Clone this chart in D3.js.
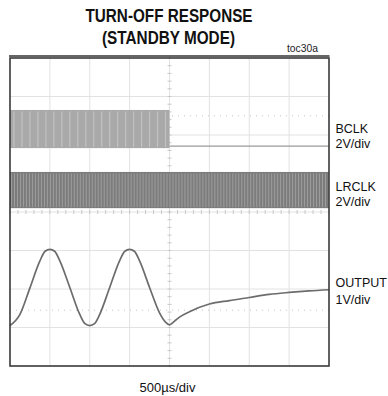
<!DOCTYPE html>
<html><head><meta charset="utf-8">
<script src="https://cdn.jsdelivr.net/npm/d3@7"></script>
<style>
html,body{margin:0;padding:0;background:#fff;}
svg{display:block;}
</style></head>
<body>
<script>
// ---- data (screen units: 500 µs/div horizontally, divisions vertically, 0 = centre) ----
const timeDomainUs = [0, 4000];
const divDomain = [-4, 4];
const gridDivsX = [0,1,2,3,4,5,6,7,8];
const gridDivsY = [-4,-3,-2,-1,0,1,2,3,4];

const channelNames = ["BCLK", "LRCLK", "OUTPUT"];
const channelScales = ["2V/div", "2V/div", "1V/div"];

// BCLK: clock band that stops at standby
const bclkHigh = 2.65, bclkLow = 1.66, bclkOffLevel = 1.71, bclkStopUs = 2000;
// LRCLK: keeps running
const lrclkHigh = 1.04, lrclkLow = 0.10, lrclkStopUs = 4000;
// aliased stripe period of the displayed clocks
const bclkStripeUs = 100, lrclkStripeUs = 37.5;

// OUTPUT trace (time µs, divisions)
const outputT = [0,125,250,375,440,500,560,625,750,875,940,1000,1060,1125,1250,1375,1440,1500,1560,1625,1750,1875,1950,2000,2060,2125,2250,2500,2750,3000,3250,3500,3750,4000];
const outputV = [-2.95,-2.66,-1.97,-1.27,-1.02,-0.97,-1.02,-1.27,-1.96,-2.66,-2.90,-2.95,-2.90,-2.66,-1.96,-1.26,-1.02,-0.97,-1.02,-1.27,-1.96,-2.62,-2.86,-2.93,-2.84,-2.73,-2.59,-2.39,-2.30,-2.22,-2.14,-2.09,-2.05,-2.02];

const markerLevels = [2.5, -2.55];

// ---- drawing ----
const W = 388, H = 396;
const svg = d3.select("body").append("svg").attr("width", W).attr("height", H);

const x = d3.scaleLinear().domain(timeDomainUs).range([10, 329]);
const y = d3.scaleLinear().domain(divDomain).range([366, 58]);
const xDiv = d3.scaleLinear().domain([0, 8]).range(x.range());

// title
const title = svg.append("g").attr("font-family", "'Liberation Sans',Arial,sans-serif")
  .attr("font-weight", "bold").attr("font-size", 19).attr("text-anchor", "middle").attr("fill", "#111");
title.append("text").attr("x", 169).attr("y", 21.7).attr("textLength", 167).attr("lengthAdjust", "spacingAndGlyphs").text("TURN-OFF RESPONSE");
title.append("text").attr("x", 168.5).attr("y", 43.5).attr("textLength", 133).attr("lengthAdjust", "spacingAndGlyphs").text("(STANDBY MODE)");

svg.append("text").attr("x", 318).attr("y", 51.5).attr("text-anchor", "end")
  .attr("font-family", "'Liberation Sans',Arial,sans-serif")
  .attr("font-size", 10).attr("fill", "#222").attr("textLength", 31).attr("lengthAdjust", "spacingAndGlyphs").text("toc30a");

svg.append("line").attr("x1", 9).attr("x2", 329.5).attr("y1", 56).attr("y2", 56)
  .attr("stroke", "#333").attr("stroke-width", 1.6);

// grid
const grid = svg.append("g");
grid.selectAll("line.vx").data(gridDivsX.slice(1, -1)).join("line")
  .attr("x1", d => xDiv(d)).attr("x2", d => xDiv(d)).attr("y1", y(4)).attr("y2", y(-4))
  .attr("stroke", "#e2e2e2").attr("stroke-width", 1);
grid.selectAll("line.hy").data(gridDivsY.slice(1, -1)).join("line")
  .attr("y1", d => y(d)).attr("y2", d => y(d)).attr("x1", x(0)).attr("x2", x(4000))
  .attr("stroke", "#e2e2e2").attr("stroke-width", 1);

// minor ticks on centre lines
const minor = d3.range(-4, 4.001, 0.2);
grid.selectAll("line.mt").data(minor).join("line")
  .attr("x1", xDiv(4) - 2).attr("x2", xDiv(4) + 2).attr("y1", d => y(d)).attr("y2", d => y(d))
  .attr("stroke", "#c8c8c8").attr("stroke-width", 1);
grid.selectAll("line.mtx").data(d3.range(0, 8.001, 0.2)).join("line")
  .attr("y1", y(0) - 2).attr("y2", y(0) + 2).attr("x1", d => xDiv(d)).attr("x2", d => xDiv(d))
  .attr("stroke", "#c8c8c8").attr("stroke-width", 1);

// marker dotted lines
grid.selectAll("line.mk").data(markerLevels).join("line")
  .attr("x1", x(0)).attr("x2", x(4000)).attr("y1", d => y(d)).attr("y2", d => y(d))
  .attr("stroke", "#c4c4c4").attr("stroke-width", 1).attr("stroke-dasharray", "1,5");

// clock bands
function clockBand(g, t0, t1, hi, lo, fill, stripe, stripeUs, stripeW) {
  g.append("rect").attr("x", x(t0)).attr("width", x(t1) - x(t0))
    .attr("y", y(hi)).attr("height", y(lo) - y(hi)).attr("fill", fill);
  const edges = d3.range(t0 + stripeUs / 2, t1, stripeUs);
  g.selectAll(null).data(edges).join("line")
    .attr("x1", d => x(d)).attr("x2", d => x(d))
    .attr("y1", y(hi) + 1.5).attr("y2", y(lo) - 1)
    .attr("stroke", stripe).attr("stroke-width", stripeW);
}
const clocks = svg.append("g");
clockBand(clocks, 0, bclkStopUs, bclkHigh, bclkLow, "#a9a9a9", "#c2c2c2", bclkStripeUs, 1.2);
clocks.append("line").attr("x1", x(bclkStopUs)).attr("x2", x(4000))
  .attr("y1", y(bclkOffLevel)).attr("y2", y(bclkOffLevel)).attr("stroke", "#9a9a9a").attr("stroke-width", 1.3);
clockBand(clocks, 0, lrclkStopUs, lrclkHigh, lrclkLow, "#7c7c7c", "#a2a2a2", lrclkStripeUs, 0.9);

// output trace
const lineGen = d3.line().x((d, i) => x(outputT[i])).y(d => y(d)).curve(d3.curveMonotoneX);
svg.append("path").attr("d", lineGen(outputV)).attr("fill", "none")
  .attr("stroke", "#6c6c6c").attr("stroke-width", 1.7);

// frame
svg.append("rect").attr("x", x(0)).attr("y", y(4)).attr("width", x(4000) - x(0)).attr("height", y(-4) - y(4))
  .attr("fill", "none").attr("stroke", "#3a3a3a").attr("stroke-width", 1.6);

// channel labels
const labY = [[132.7, 148.3], [190.7, 206.3], [287.3, 303.5]];
const lab = svg.append("g").attr("font-family", "'Liberation Sans',Arial,sans-serif").attr("font-size", 12.5).attr("fill", "#111");
channelNames.forEach((n, i) => {
  lab.append("text").attr("x", 335.5).attr("y", labY[i][0]).text(n);
  lab.append("text").attr("x", 335.5).attr("y", labY[i][1]).text(channelScales[i]);
});

svg.append("text").attr("x", 167.5).attr("y", 392).attr("text-anchor", "middle")
  .attr("font-family", "'Liberation Sans',Arial,sans-serif").attr("font-size", 13).attr("fill", "#111").text("500µs/div");
</script>
</body></html>
